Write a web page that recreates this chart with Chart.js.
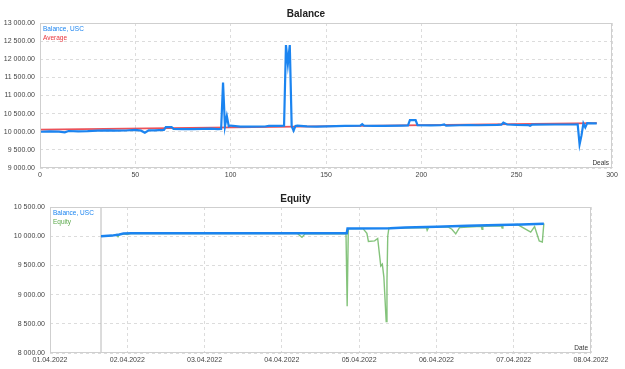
<!DOCTYPE html>
<html>
<head>
<meta charset="utf-8">
<script src="https://cdn.jsdelivr.net/npm/chart.js@4"></script>
<style>
  html, body { margin: 0; padding: 0; background: #fff; }
  #wrap { position: relative; width: 625px; height: 369px; }
  canvas { position: absolute; left: 0; }
</style>
</head>
<body>
<div id="wrap">
  <canvas id="balanceChart" width="625" height="185" style="top:0"></canvas>
  <canvas id="equityChart" width="625" height="184" style="top:185px"></canvas>
</div>
<script>
// Balance chart (by deal number)
const dealNumbers = [0, 5, 10, 13, 15, 20, 25, 30, 36, 40, 45, 50, 53, 55, 57, 60, 65, 66, 69, 70,
  75, 80, 85, 90, 93, 95, 96, 97, 98, 99, 100, 105, 110, 118, 120, 125, 128, 129, 130, 131,
  132, 133, 134, 135, 140, 145, 150, 160, 168, 169, 170, 175, 180, 190, 193, 194, 197, 198, 205, 210,
  212, 213, 220, 225, 230, 240, 242, 243, 245, 250, 256, 257, 258, 270, 280, 282, 283, 284, 285, 286,
  287, 290, 292];
const balanceByDeal = [10000, 10010, 10005, 9985, 10020, 10010, 10015, 10030, 10040, 10030, 10035, 10050, 10030, 9975, 10040, 10040, 10050, 10130, 10130, 10080,
  10070, 10075, 10080, 10085, 10070, 10075, 11360, 10150, 10430, 10150, 10170, 10140, 10140, 10145, 10160, 10160, 10165, 12390, 11870, 12390,
  10150, 10030, 10160, 10170, 10150, 10140, 10150, 10160, 10170, 10210, 10165, 10160, 10160, 10170, 10175, 10320, 10320, 10180, 10175, 10180,
  10200, 10170, 10180, 10185, 10180, 10190, 10195, 10250, 10200, 10190, 10185, 10165, 10195, 10200, 10200, 10205, 9650, 9900, 10230, 10120,
  10240, 10230, 10230];
const averageDeals = [0, 292];
const averageValues = [10060, 10240];

// Equity chart (by day since 01.04.2022)
const dateLabels = ['01.04.2022', '02.04.2022', '03.04.2022', '04.04.2022', '05.04.2022', '06.04.2022', '07.04.2022', '08.04.2022'];
const balanceDays = [0.66, 0.8, 0.9, 0.95, 1.05, 3.84, 3.85, 4.4, 4.6, 5.0, 5.4, 5.8, 6.1, 6.39];
const balanceByDay = [10000, 10010, 10030, 10045, 10050, 10050, 10130, 10135, 10150, 10160, 10180, 10190, 10200, 10215];
const equityDays = [0.66, 0.75, 0.82, 0.86, 0.88, 0.9, 0.95, 1.0, 1.05, 1.1, 3.2, 3.26, 3.3, 3.83, 3.845, 3.86, 4.05, 4.1, 4.12, 4.2,
  4.24, 4.28, 4.3, 4.32, 4.35, 4.36, 4.37, 4.385, 4.5, 4.87, 4.88, 4.9, 5.15, 5.2, 5.25, 5.3, 5.58, 5.59, 5.6, 5.84,
  5.85, 5.86, 6.05, 6.17, 6.22, 6.27, 6.33, 6.37, 6.39];
const equityValues = [10000, 10005, 10015, 10030, 9990, 10035, 10040, 10030, 10050, 10045, 10045, 9980, 10040, 10040, 8800, 10130, 10130, 10050, 9910, 9920,
  9960, 9490, 9520, 9300, 8540, 9230, 10000, 10140, 10140, 10150, 10100, 10155, 10160, 10120, 10040, 10150, 10170, 10120, 10170, 10180,
  10140, 10185, 10200, 10110, 10070, 10165, 9920, 9900, 10220];
const historyStartDay = 0.66;

const FONT = 'Liberation Sans, Arial, sans-serif';
const BLUE = '#1b84f0';
const RED = 'rgba(232, 52, 60, 0.85)';
const GREEN = 'rgba(110, 185, 100, 0.85)';

function toPoints(xs, ys) {
  return xs.map((x, i) => ({x: x, y: ys[i]}));
}

function money(v) {
  const s = Math.round(v).toString();
  const whole = s.replace(/\B(?=(\d{3})+(?!\d))/g, ' ');
  return whole + '.00';
}

// frame around the plot + series names in the corner + axis name bottom right
const framePlugin = {
  id: 'frame',
  afterDraw(chart, args, opts) {
    const {ctx, chartArea: a} = chart;
    ctx.save();
    ctx.strokeStyle = '#cfcfcf';
    ctx.lineWidth = 1;
    ctx.strokeRect(a.left + 0.5, a.top + 0.5, a.right - a.left - 1, a.bottom - a.top - 1);
    ctx.font = '6.5px ' + FONT;
    ctx.textBaseline = 'top';
    ctx.textAlign = 'left';
    opts.names.forEach((n, i) => {
      ctx.fillStyle = n.color;
      ctx.fillText(n.text, a.left + 3, a.top + 3 + i * 8.5);
    });
    ctx.fillStyle = '#333';
    ctx.textAlign = 'right';
    ctx.textBaseline = 'bottom';
    ctx.fillText(opts.axisName, a.right - 3, a.bottom - 2);
    ctx.restore();
  }
};

function baseOptions(title, yMin, yMax, yWidth, padRight) {
  return {
    responsive: false,
    animation: false,
    layout: { padding: { left: 0, right: padRight, top: 0, bottom: 0 } },
    elements: { point: { radius: 0 }, line: { tension: 0 } },
    plugins: {
      legend: { display: false },
      tooltip: { enabled: false },
      title: {
        display: true,
        text: title,
        color: '#222',
        font: { family: FONT, size: 10, weight: 'bold' },
        padding: { top: 8, bottom: 3 }
      }
    },
    scales: {
      y: {
        min: yMin,
        max: yMax,
        afterFit(scale) { scale.width = yWidth; },
        border: { display: false, dash: [3, 3] },
        grid: { color: '#dcdcdc', drawTicks: false },
        ticks: {
          stepSize: 500,
          padding: 5,
          color: '#444',
          font: { family: FONT, size: 7 },
          callback: v => money(v)
        }
      }
    }
  };
}

// top: Balance
const topOpts = baseOptions('Balance', 9000, 13000, 40, 13);
topOpts.scales.x = {
  type: 'linear',
  min: 0,
  max: 300,
  afterFit(scale) { scale.height = 17; },
  border: { display: false, dash: [3, 3] },
  grid: { color: '#dcdcdc', drawTicks: false },
  ticks: { stepSize: 50, padding: 3, color: '#444', font: { family: FONT, size: 7 } }
};
topOpts.plugins.frame = {
  names: [{text: 'Balance, USC', color: BLUE}, {text: 'Average', color: '#e8343c'}],
  axisName: 'Deals'
};

new Chart(document.getElementById('balanceChart'), {
  type: 'line',
  data: {
    datasets: [
      { label: 'Balance, USC', data: toPoints(dealNumbers, balanceByDeal), borderColor: BLUE, borderWidth: 2.2 },
      { label: 'Average', data: toPoints(averageDeals, averageValues), borderColor: RED, borderWidth: 1.8 }
    ]
  },
  options: topOpts,
  plugins: [framePlugin]
});

// bottom: Equity
const botOpts = baseOptions('Equity', 8000, 10500, 50, 34);
botOpts.plugins.title.padding = { top: 8, bottom: 2 };
botOpts.scales.x = {
  type: 'linear',
  min: 0,
  max: 7,
  afterFit(scale) { scale.height = 16; },
  border: { display: false, dash: [3, 3] },
  grid: { color: '#dcdcdc', drawTicks: false },
  ticks: { stepSize: 1, padding: 3, color: '#444', font: { family: FONT, size: 7 },
    callback: v => dateLabels[v] }
};
botOpts.plugins.frame = {
  names: [{text: 'Balance, USC', color: BLUE}, {text: 'Equity', color: '#5aa84a'}],
  axisName: 'Date'
};

new Chart(document.getElementById('equityChart'), {
  type: 'line',
  data: {
    datasets: [
      { label: 'Balance, USC', data: toPoints(balanceDays, balanceByDay), borderColor: BLUE, borderWidth: 2.5 },
      { label: 'Equity', data: toPoints(equityDays, equityValues), borderColor: GREEN, borderWidth: 1.4 },
      { label: 'start', data: toPoints([historyStartDay, historyStartDay], [8000, 10500]), borderColor: '#b8b8b8', borderWidth: 1 }
    ]
  },
  options: botOpts,
  plugins: [framePlugin]
});
</script>
</body>
</html>
